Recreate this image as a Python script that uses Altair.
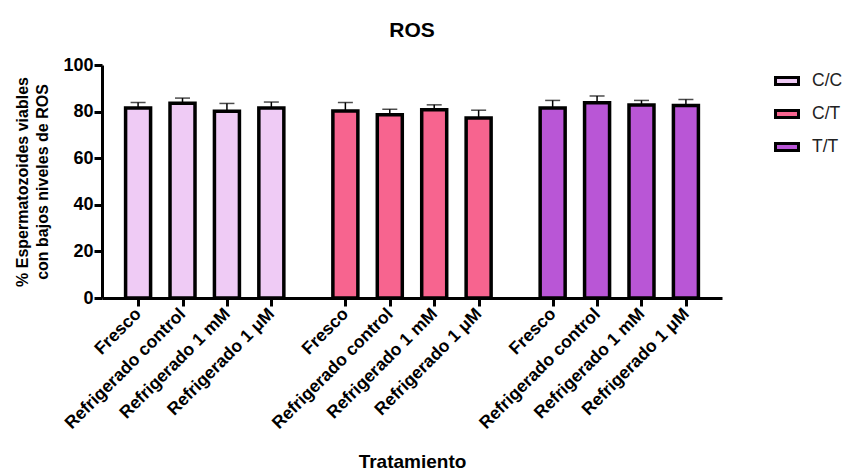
import altair as alt
import pandas as pd

# Genotype groups and treatments
groups = ["C/C", "C/T", "T/T"]
treatments = ["Fresco", "Refrigerado control", "Refrigerado 1 mM", "Refrigerado 1 μM"]

# Mean % viable spermatozoa with low ROS and upper error (SD), per group
means = {
    "C/C": [81.5, 83.6, 80.1, 81.5],
    "C/T": [80.3, 78.6, 80.8, 77.2],
    "T/T": [81.5, 83.8, 82.8, 82.6],
}
errors = {
    "C/C": [2.4, 2.2, 3.4, 2.6],
    "C/T": [3.6, 2.4, 2.1, 3.4],
    "T/T": [3.3, 2.9, 2.0, 2.6],
}
colors = ["#EFCBF5", "#F7648F", "#B956D6"]

# Slot layout: 3 units between bars, 14 units between group starts
STEP, GROUP = 3, 14

rows = []
for gi, g in enumerate(groups):
    for ti, t in enumerate(treatments):
        m = means[g][ti]
        e = errors[g][ti]
        rows.append({"grupo": g, "tratamiento": t, "pos": gi * GROUP + ti * STEP,
                     "media": m, "sup": m + e})
df = pd.DataFrame(rows)

FONT = "Liberation Sans"
label_arr = "[" + ",".join("'" + t + "'" for t in treatments) + "]"
label_expr = f"{label_arr}[(datum.value % {GROUP}) / {STEP}]"

x = alt.X("pos:Q",
          scale=alt.Scale(domain=[-2.1, 39.1], nice=False, zero=False),
          axis=alt.Axis(values=df["pos"].tolist(), labelExpr=label_expr,
                        title="Tratamiento", labelAngle=-45, labelAlign="right",
                        labelBaseline="middle", labelFont=FONT, labelFontSize=17.5,
                        labelFontWeight="bold", labelColor="black", labelPadding=5,
                        titleFont=FONT, titleFontSize=19, titleFontWeight="bold",
                        titleColor="black", titlePadding=21, grid=False,
                        domainColor="black", domainWidth=3, tickColor="black",
                        tickWidth=3, tickSize=8, labelOverlap=False))
y = alt.Y("media:Q",
          scale=alt.Scale(domain=[0, 100], nice=False),
          axis=alt.Axis(values=[0, 20, 40, 60, 80, 100],
                        title=["% Espermatozoides viables", "con bajos niveles de ROS"],
                        labelFont=FONT, labelFontSize=18, labelFontWeight="bold",
                        labelColor="black", labelPadding=1,
                        titleFont=FONT, titleFontSize=16, titleFontWeight="bold",
                        titleColor="black", titlePadding=12, titleLineHeight=20,
                        grid=False,
                        domainColor="black", domainWidth=3, tickColor="black",
                        tickWidth=3, tickSize=8))

base = alt.Chart(df)

err = base.mark_rule(color="black", strokeWidth=1.5).encode(
    x="pos:Q", y="media:Q", y2="sup:Q")
cap = base.mark_tick(color="black", orient="horizontal", size=15, thickness=1.5).encode(
    x="pos:Q", y="sup:Q")

bars = base.mark_bar(width=25, stroke="black", strokeWidth=3.5).encode(
    x=x, y=y,
    color=alt.Color("grupo:N",
                    scale=alt.Scale(domain=groups, range=colors),
                    legend=alt.Legend(title=None, orient="none", legendX=672, legendY=3,
                                      symbolType="M-1,-0.3H1V0.3H-1Z", symbolSize=529,
                                      symbolStrokeColor="black", symbolStrokeWidth=3,
                                      labelFont=FONT, labelFontSize=17.5,
                                      labelColor="#222222", rowPadding=10,
                                      labelOffset=12)),
)

chart = alt.layer(err, cap, bars).properties(
    width=620, height=233,
    title=alt.TitleParams("ROS", font=FONT, fontSize=21, fontWeight="bold",
                          color="black", anchor="middle", offset=15),
    autosize=alt.AutoSizeParams(type="none"),
    padding={"left": 102, "top": 65, "right": 126, "bottom": 175},
).configure_view(stroke=None)

chart.save("out.html", embed_options={"renderer": "svg", "actions": False})
